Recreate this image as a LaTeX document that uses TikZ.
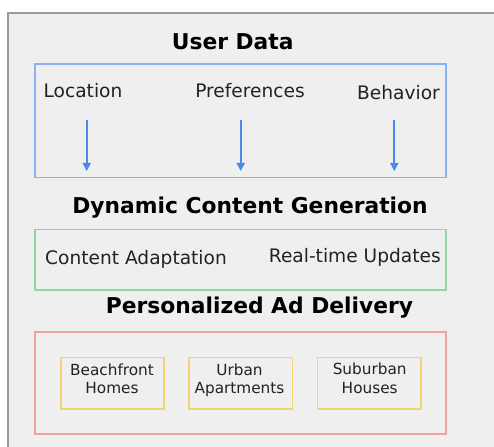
\documentclass[tikz,border=0pt]{standalone}
\usepackage{fontspec}
\setmainfont{DejaVu Sans}
\usetikzlibrary{arrows.meta}
\definecolor{outerfill}{HTML}{EFEFEF}
\definecolor{outerline}{HTML}{9A9A9A}
\definecolor{bluebox}{HTML}{8AB0F5}
\definecolor{arrowblue}{HTML}{4A88EE}
\definecolor{greenbox}{HTML}{96D4A4}
\definecolor{redbox}{HTML}{F2A29C}
\definecolor{yellowbox}{HTML}{F5D36E}
\definecolor{txt}{HTML}{222222}
\tikzset{
  x=1pt, y=-1pt,
  title/.style={anchor=base, inner sep=0pt, font=\fontsize{21.8}{24}\selectfont\bfseries, text=black},
  label/.style={anchor=base, inner sep=0pt, font=\fontsize{18.6}{22}\selectfont, text=txt},
  small/.style={anchor=base, inner sep=0pt, font=\fontsize{15.3}{18.5}\selectfont, text=txt, align=center},
  group/.style={draw=#1, line width=1.6pt},
  adbox/.style={draw=yellowbox, line width=1.6pt},
  flow/.style={draw=arrowblue, line width=1.8pt, -{Triangle[length=8pt,width=8pt]}}
}
\begin{document}
\begin{tikzpicture}
\useasboundingbox (0,0) rectangle (494,446);
\begin{scope}
\clip (0,0) rectangle (494,446);
\draw[fill=outerfill, draw=outerline, line width=1.8pt] (8,13) rectangle (510,460);
\end{scope}
% boxes
\draw[group=bluebox] (35,64) rectangle (446,177.7);
\draw[group=greenbox] (35,229.3) rectangle (446,290);
\draw[group=redbox] (35,331.7) rectangle (446,434);
\draw[adbox] (60.7,357.3) rectangle (163.7,408.7);
\draw[adbox] (189,357.3) rectangle (292.3,408.7);
\draw[adbox] (317.3,357.3) rectangle (420.7,408.7);
% titles
\node[title] (ud) at (232.7,50) {User Data};
\node[title] (dcg) at (250,213) {Dynamic Content Generation};
\node[title] (pad) at (259.5,313) {Personalized Ad Delivery};
% user data labels
\node[label] (loc) at (83,98) {Location};
\node[label] (pref) at (250,98) {Preferences};
\node[label] (beh) at (398.5,99.5) {Behavior};
% arrows
\coordinate (a1s) at (86.7,120); \coordinate (a1e) at (86.7,171);
\coordinate (a2s) at (240.7,120); \coordinate (a2e) at (240.7,171);
\coordinate (a3s) at (394.3,120); \coordinate (a3e) at (394.3,171);
\draw[flow] (a1s) -- (a1e);
\draw[flow] (a2s) -- (a2e);
\draw[flow] (a3s) -- (a3e);
% content generation
\node[label] (ca) at (136,264) {Content Adaptation};
\node[label] (rtu) at (354.8,262.7) {Real-time Updates};
% ads
\node[small] (b1) at (112,393.5) {Beachfront\\Homes};
\node[small] (b2) at (239.5,393.5) {Urban\\Apartments};
\node[small] (b3) at (369.7,393) {Suburban\\Houses};
\end{tikzpicture}
\end{document}
